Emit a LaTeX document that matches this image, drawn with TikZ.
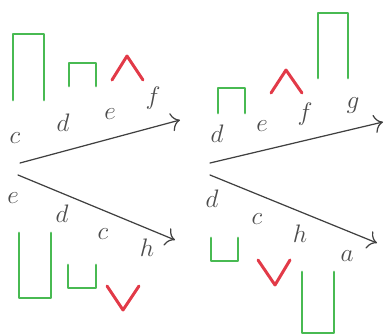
\documentclass[tikz,border=0pt]{standalone}
\usetikzlibrary{arrows.meta}
\definecolor{bargreen}{RGB}{72,186,82}
\definecolor{peakred}{RGB}{226,58,72}
\tikzset{
  bar/.style={draw=bargreen,line width=1.6pt},
  peak/.style={draw=peakred,line width=1.7pt},
  axis/.style={draw=black!75,line width=.7pt,-{To[scale=1.6]}},
  lbl/.style={text=black!70,inner sep=1pt}
}
\begin{document}
\begin{tikzpicture}[x=.02cm,y=-.02cm,font=\Large,line cap=round,line join=round]
    \useasboundingbox (0,0) rectangle (385,335);
    % left: rising row
    \coordinate (lt0) at (20,163);
    \coordinate (lt1) at (180,120);
    \draw[axis] (lt0) -- (lt1);
    \node[lbl] (ltc) at (15,138) {\(c\)};
    \node[lbl] (ltd) at (63,123) {\(d\)};
    \node[lbl] (lte) at (110,114) {\(e\)};
    \node[lbl] (ltf) at (153,98) {\(f\)};
    \draw[bar] (13,100) |- (44,34) -- (44,100);
    \draw[bar] (69,86) |- (96,63) -- (96,86);
    \draw[peak] (112,80) -- (127,56) -- (143,80);
    % left: falling row
    \coordinate (lb0) at (18,175);
    \coordinate (lb1) at (175,240);
    \draw[axis] (lb0) -- (lb1);
    \node[lbl] (lbe) at (13,198) {\(e\)};
    \node[lbl] (lbd) at (62,214) {\(d\)};
    \node[lbl] (lbc) at (103,234) {\(c\)};
    \node[lbl] (lbh) at (147,248) {\(h\)};
    \draw[bar] (19,233) |- (51,298) -- (51,233);
    \draw[bar] (68,265) |- (96,288) -- (96,265);
    \draw[peak] (107,286) -- (123,310) -- (139,286);
    % right: rising row
    \coordinate (rt0) at (210,163);
    \coordinate (rt1) at (383,122);
    \draw[axis] (rt0) -- (rt1);
    \node[lbl] (rtd) at (217,134) {\(d\)};
    \node[lbl] (rte) at (262,126) {\(e\)};
    \node[lbl] (rtf) at (305,114) {\(f\)};
    \node[lbl] (rtg) at (353,106) {\(g\)};
    \draw[bar] (218,113) |- (245,88) -- (245,113);
    \draw[peak] (271,93) -- (286,70) -- (302,93);
    \draw[bar] (318,78) |- (348,13) -- (348,78);
    % right: falling row
    \coordinate (rb0) at (210,175);
    \coordinate (rb1) at (377,243);
    \draw[axis] (rb0) -- (rb1);
    \node[lbl] (rbd) at (212,199) {\(d\)};
    \node[lbl] (rbc) at (257,219) {\(c\)};
    \node[lbl] (rbh) at (300,234) {\(h\)};
    \node[lbl] (rba) at (347,256) {\(a\)};
    \draw[bar] (211,238) |- (238,261) -- (238,238);
    \draw[peak] (258,260) -- (275,285) -- (290,260);
    \draw[bar] (302,272) |- (334,333) -- (334,272);
  \end{tikzpicture}
\end{document}
